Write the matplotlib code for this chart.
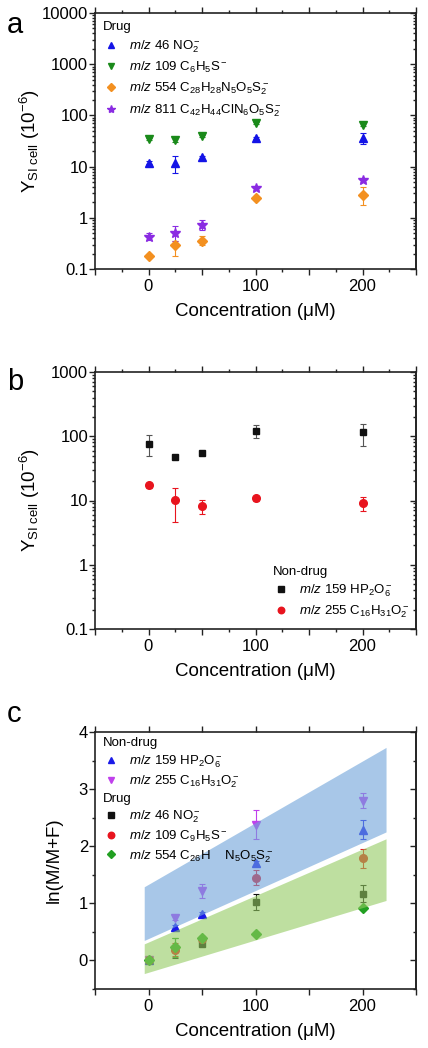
import numpy as np
import matplotlib
matplotlib.use("Agg")
import matplotlib.pyplot as plt
from matplotlib.ticker import FixedLocator, MultipleLocator, FuncFormatter, LogLocator, NullFormatter

plt.rcParams['font.family'] = ['Liberation Sans', 'DejaVu Sans']
plt.rcParams['mathtext.fontset'] = 'custom'
plt.rcParams['mathtext.rm'] = 'Liberation Sans'
plt.rcParams['mathtext.it'] = 'Liberation Sans:italic'
plt.rcParams['mathtext.bf'] = 'Liberation Sans:bold'

# ---------------- data ----------------
conc = [0, 25, 50, 100, 200]

# panel a (drug)
a_no2 = [11.9, 11.9, 15.2, 36, 37]
a_no2_lo = [0.8, 4.5, 1.2, 2, 9]
a_no2_hi = [0.8, 4.5, 1.2, 2, 8]
a_c6h5s = [35, 33, 39.5, 72, 66]
a_c6h5s_err = [2, 3, 2, 4, 4]
a_554 = [0.18, 0.30, 0.36, 2.4, 2.85]
a_554_lo = [0.01, 0.12, 0.07, 0.2, 1.1]
a_554_hi = [0.01, 0.05, 0.08, 0.2, 1.2]
a_811 = [0.43, 0.50, 0.72, 3.8, 5.4]
a_811_lo = [0.06, 0.15, 0.13, 0.3, 0.4]
a_811_hi = [0.07, 0.18, 0.18, 0.3, 0.4]

# panel b (non-drug)
b_159 = [77, 47, 55, 122, 115]
b_159_lo = [28, 2, 2, 29, 44]
b_159_hi = [28, 2, 2, 28, 42]
b_255 = [17.2, 10.2, 8.2, 10.8, 9.2]
b_255_lo = [1.5, 5.5, 2.1, 1.0, 2.3]
b_255_hi = [1.5, 5.3, 2.0, 1.0, 2.3]

# panel c
c_159 = [0, 0.58, 0.81, 1.70, 2.29]
c_159_err = [0.02, 0.04, 0.04, 0.05, 0.17]
c_255 = [0, 0.75, 1.22, 2.38, 2.80]
c_255_err = [0.02, 0.04, 0.12, 0.25, 0.13]
c_46 = [0, 0.22, 0.28, 1.02, 1.17]
c_46_err = [0.02, 0.17, 0.03, 0.14, 0.15]
c_109 = [0, 0.19, 0.38, 1.45, 1.79]
c_109_err = [0.02, 0.12, 0.04, 0.13, 0.17]
c_554 = [0, 0.23, 0.40, 0.47, 0.91]
c_554_err = [0.02, 0.17, 0.03, 0.03, 0.03]

band_x = [-4, 222]
blue_band_lo = [0.35, 2.25]
blue_band_hi = [1.29, 3.73]
green_band_lo = [-0.23, 1.05]
green_band_hi = [0.29, 2.13]

log_ticks_a = [0.1, 1, 10, 100, 1000, 10000]
log_ticks_b = [0.1, 1, 10, 100, 1000]

# ---------------- figure ----------------
W, H = 428, 1048
fig = plt.figure(figsize=(W / 100, H / 100), dpi=100)

def frac(l, t, r, b):
    return [l / W, 1 - b / H, (r - l) / W, (b - t) / H]

SPINE = '#222222'
TFS = 12
LFS = 13.5

def style_axes(ax, xmajor=50, xminor=25):
    for s in ax.spines.values():
        s.set_linewidth(1.2)
        s.set_color(SPINE)
    ax.set_xlim(-50, 250)
    ax.xaxis.set_major_locator(MultipleLocator(xmajor))
    if xminor:
        ax.xaxis.set_minor_locator(MultipleLocator(xminor))
    ax.xaxis.set_major_formatter(FuncFormatter(lambda v, p: f"{int(v)}" if int(round(v)) in (0, 100, 200) else ""))
    ax.tick_params(axis='x', which='both', direction='out', top=True, bottom=True,
                   labelsize=TFS, color=SPINE, width=1.0)
    ax.tick_params(axis='x', which='major', length=4)
    ax.tick_params(axis='x', which='minor', length=2.5)
    ax.tick_params(axis='y', which='both', direction='out', left=True, right=False,
                   labelsize=TFS, color=SPINE, width=1.0, pad=1)
    ax.tick_params(axis='y', which='major', length=4)
    ax.tick_params(axis='y', which='minor', length=2.5)
    ax.set_xlabel('Concentration (μM)', fontsize=LFS, labelpad=6)

def right_ticks(ax, log=False, ticks=None, minor=None):
    sec = ax.secondary_yaxis('right')
    if log:
        sec.set_yscale('log')
        sec.yaxis.set_major_locator(FixedLocator(ticks))
        sec.yaxis.set_minor_locator(LogLocator(base=10, subs=np.arange(2, 10)))
    else:
        sec.yaxis.set_major_locator(FixedLocator(ticks))
        sec.yaxis.set_minor_locator(MultipleLocator(minor))
    sec.yaxis.set_major_formatter(NullFormatter())
    sec.yaxis.set_minor_formatter(NullFormatter())
    sec.tick_params(which='both', direction='in', color=SPINE, width=1.0)
    sec.tick_params(which='major', length=4)
    sec.tick_params(which='minor', length=2.5)
    sec.spines['right'].set_linewidth(1.2)
    sec.spines['right'].set_color(SPINE)

logfmt = FuncFormatter(lambda v, p: ('%g' % v))
ylab = r'Y$_{\mathregular{SI\ cell}}$ (10$^{-6}$)'
eb = dict(capsize=2.2, elinewidth=0.8, capthick=0.8, linestyle='none')

# ---------- panel a ----------
axa = fig.add_axes(frac(95, 13, 416, 269))
axa.set_yscale('log')
axa.set_ylim(0.1, 10000)
style_axes(axa)
axa.yaxis.set_major_locator(FixedLocator(log_ticks_a))
axa.yaxis.set_major_formatter(logfmt)
axa.yaxis.set_minor_locator(LogLocator(base=10, subs=np.arange(2, 10)))
axa.yaxis.set_minor_formatter(NullFormatter())
right_ticks(axa, log=True, ticks=log_ticks_a)

c_blue = '#1414e6'
c_dgreen = '#1a8a1a'
c_orange = '#f39020'
c_purple = '#8a2be2'
axa.errorbar(conc, a_no2, yerr=[a_no2_lo, a_no2_hi], marker='^', ms=5.5, color=c_blue,
             label=r'$m/z$ 46 NO$_2^-$', **eb)
axa.errorbar(conc, a_c6h5s, yerr=a_c6h5s_err, marker='v', ms=5.5, color=c_dgreen,
             label=r'$m/z$ 109 C$_6$H$_5$S$^-$', **eb)
axa.errorbar(conc, a_554, yerr=[a_554_lo, a_554_hi], marker='D', ms=4.8, color=c_orange,
             label=r'$m/z$ 554 C$_{28}$H$_{28}$N$_5$O$_5$S$_2^-$', **eb)
axa.errorbar(conc, a_811, yerr=[a_811_lo, a_811_hi], marker='*', ms=7, color=c_purple,
             label=r'$m/z$ 811 C$_{42}$H$_{44}$ClN$_6$O$_5$S$_2^-$', **eb)
h, l = axa.get_legend_handles_labels()
h = [x[0] for x in h]
leg = axa.legend(h, l, title='Drug', loc='upper left', frameon=False, fontsize=9.5,
                 title_fontsize=9.5, alignment='left', handlelength=1.2, handletextpad=0.8,
                 labelspacing=0.4, borderaxespad=0.2, markerscale=0.85,
                 bbox_to_anchor=(0.0, 1.0))
axa.set_ylabel(ylab, fontsize=LFS)

# ---------- panel b ----------
axb = fig.add_axes(frac(95, 372, 416, 629))
axb.set_yscale('log')
axb.set_ylim(0.1, 1000)
style_axes(axb)
axb.yaxis.set_major_locator(FixedLocator(log_ticks_b))
axb.yaxis.set_major_formatter(logfmt)
axb.yaxis.set_minor_locator(LogLocator(base=10, subs=np.arange(2, 10)))
axb.yaxis.set_minor_formatter(NullFormatter())
right_ticks(axb, log=True, ticks=log_ticks_b)

c_black = '#111111'
c_red = '#e8141e'
axb.errorbar(conc, b_159, yerr=[b_159_lo, b_159_hi], marker='s', ms=5, color=c_black,
             ecolor='#555555', label=r'$m/z$ 159 HP$_2$O$_6^-$', **eb)
axb.errorbar(conc, b_255, yerr=[b_255_lo, b_255_hi], marker='o', ms=5.5, color=c_red,
             label=r'$m/z$ 255 C$_{16}$H$_{31}$O$_2^-$', **eb)
h, l = axb.get_legend_handles_labels()
h = [x[0] for x in h]
axb.legend(h, l, title='Non-drug', loc='lower right', frameon=False, fontsize=9.5,
           title_fontsize=9.5, alignment='left', handlelength=1.2, handletextpad=0.8,
           labelspacing=0.35, borderaxespad=0.3, markerscale=0.85,
           bbox_to_anchor=(1.01, 0.0))
axb.set_ylabel(ylab, fontsize=LFS)

# ---------- panel c ----------
axc = fig.add_axes(frac(95, 732, 416, 989))
axc.set_ylim(-0.5, 4)
style_axes(axc, xmajor=50, xminor=None)
axc.yaxis.set_major_locator(FixedLocator([0, 1, 2, 3, 4]))
axc.yaxis.set_minor_locator(MultipleLocator(0.5))
right_ticks(axc, ticks=[0, 1, 2, 3, 4], minor=0.5)

c_blue2 = '#1a1ae8'
c_mag = '#c040ec'
c_green2 = '#22a022'
e1 = axc.errorbar(conc, c_159, yerr=c_159_err, marker='^', ms=5.5, color=c_blue2, zorder=2, **eb)
e2 = axc.errorbar(conc, c_255, yerr=c_255_err, marker='v', ms=5.5, color=c_mag, zorder=2, **eb)
e3 = axc.errorbar(conc, c_46, yerr=c_46_err, marker='s', ms=5, color=c_black, zorder=2, **eb)
e4 = axc.errorbar(conc, c_109, yerr=c_109_err, marker='o', ms=5.5, color=c_red, zorder=2, **eb)
e5 = axc.errorbar(conc, c_554, yerr=c_554_err, marker='D', ms=4.8, color=c_green2, zorder=2, **eb)

axc.fill_between(band_x, blue_band_lo, blue_band_hi, color='#6ea3d9', alpha=0.6,
                 linewidth=0, zorder=3)
axc.fill_between(band_x, green_band_lo, green_band_hi, color='#93cb61', alpha=0.6,
                 linewidth=0, zorder=3)

legkw = dict(frameon=False, fontsize=9.5, title_fontsize=9.5, alignment='left',
             handlelength=1.2, handletextpad=0.8, labelspacing=0.3, markerscale=0.85)
leg1 = axc.legend([e1[0], e2[0]],
                  [r'$m/z$ 159 HP$_2$O$_6^-$', r'$m/z$ 255 C$_{16}$H$_{31}$O$_2^-$'],
                  title='Non-drug', loc='upper left', bbox_to_anchor=(0.0, 1.01),
                  borderaxespad=0.2, **legkw)
leg1.set_zorder(5)
axc.add_artist(leg1)
leg2 = axc.legend([e3[0], e4[0], e5[0]],
                  [r'$m/z$ 46 NO$_2^-$', r'$m/z$ 109 C$_9$H$_5$S$^-$',
                   r'$m/z$ 554 C$_{26}$H    N$_5$O$_5$S$_2^-$'],
                  title='Drug', loc='upper left', bbox_to_anchor=(0.0, 0.795),
                  borderaxespad=0.2, **legkw)
leg2.set_zorder(5)
axc.set_ylabel('ln(M/M+F)', fontsize=LFS)

# panel letters
for letter, yb in (('a', 33), ('b', 390), ('c', 722)):
    fig.text(7 / W, 1 - yb / H, letter, fontsize=21, va='baseline', ha='left')

# y label positions
axa.yaxis.set_label_coords(-0.165, 0.5)
axb.yaxis.set_label_coords(-0.165, 0.5)
axc.yaxis.set_label_coords(-0.1, 0.5)

fig.savefig('out.png', dpi=100)
